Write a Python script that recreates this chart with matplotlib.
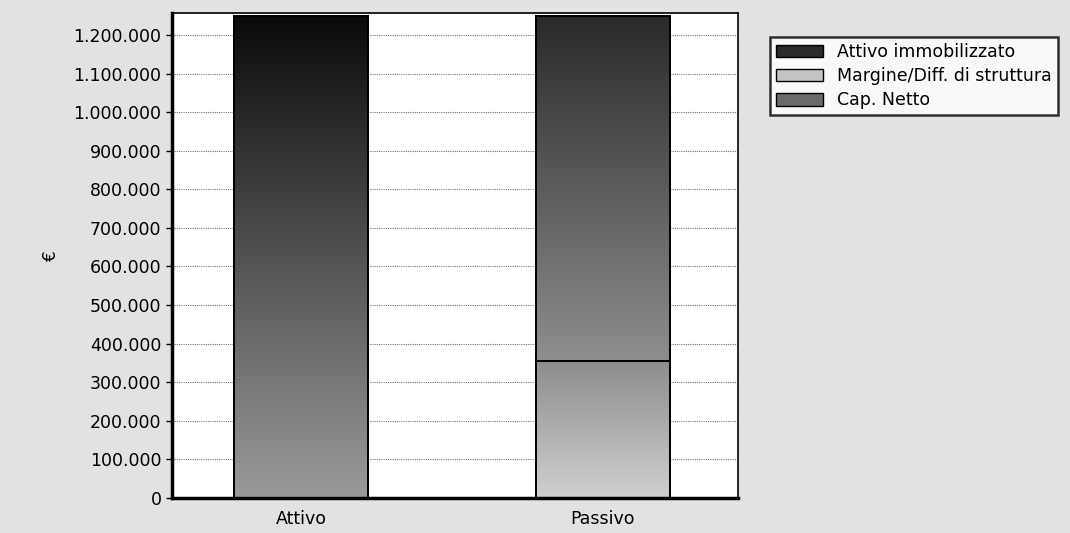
import numpy as np
import matplotlib
matplotlib.use("Agg")
import matplotlib.pyplot as plt
from matplotlib.colors import LinearSegmentedColormap
from matplotlib.patches import Patch

categories = ["Attivo", "Passivo"]
series_names = ["Attivo immobilizzato", "Margine/Diff. di struttura", "Cap. Netto"]
attivo_immobilizzato = [1250000, 0]
margine = [0, 356000]
cap_netto = [0, 894000]
yticks = [0, 100000, 200000, 300000, 400000, 500000, 600000, 700000,
          800000, 900000, 1000000, 1100000, 1200000]
ytick_labels = ["0", "100.000", "200.000", "300.000", "400.000", "500.000",
                "600.000", "700.000", "800.000", "900.000", "1.000.000",
                "1.100.000", "1.200.000"]

plt.rcParams['font.family'] = ['DejaVu Sans']
fig = plt.figure(figsize=(10.70, 5.33), dpi=100, facecolor="#e2e2e2")
ax = fig.add_axes([172/1070, 1-498/533, (738-172)/1070, (498-13)/533])
ax.set_facecolor("white")

x = np.arange(len(categories))
w = 0.445
b1 = ax.bar(x, attivo_immobilizzato, w, color="#3a3a3a", edgecolor="black", lw=1.2, zorder=2)
b2 = ax.bar(x, margine, w, bottom=attivo_immobilizzato, color="#b0b0b0", edgecolor="black", lw=1.2, zorder=2)
bot3 = np.array(attivo_immobilizzato) + np.array(margine)
b3 = ax.bar(x, cap_netto, w, bottom=bot3, color="#6a6a6a", edgecolor="black", lw=1.2, zorder=2)

# gradient fills, clipped to the bar patches
grads = {
    0: ("#9a9a9a", "#0a0a0a"),
    1: ("#d0d0d0", "#8c8c8c"),
    2: ("#8e8e8e", "#2a2a2a"),
}
for si, bars in enumerate([b1, b2, b3]):
    c0, c1 = grads[si]
    cmap = LinearSegmentedColormap.from_list("g%d" % si, [c0, c1])
    for p in bars:
        h = p.get_height()
        if h <= 0:
            continue
        x0, y0 = p.get_x(), p.get_y()
        grad = np.linspace(0, 1, 256).reshape(-1, 1)
        im = ax.imshow(grad, cmap=cmap, origin="lower", aspect="auto",
                       extent=[x0, x0 + p.get_width(), y0, y0 + h], zorder=2.5)
        im.set_clip_path(p)
        ax.bar(p.get_x() + p.get_width()/2, h, p.get_width(), bottom=y0,
               facecolor="none", edgecolor="black", lw=1.4, zorder=3)

ax.set_xlim(-0.43, 1.45)
ax.set_ylim(0, 1257000)
ax.set_yticks(yticks)
ax.set_yticklabels(ytick_labels, fontsize=12.5)
ax.set_xticks(x)
ax.set_xticklabels(categories, fontsize=12.5)
ax.tick_params(axis="y", length=4, width=1)
ax.tick_params(axis="x", length=0, pad=9)
ax.grid(axis="y", color="#777777", lw=0.8, ls=(0, (1, 1)), zorder=1)
ax.set_axisbelow(True)
for s in ["left", "bottom"]:
    ax.spines[s].set_linewidth(2.5)
for s in ["top", "right"]:
    ax.spines[s].set_linewidth(1.2)
ax.set_ylabel("€", fontsize=12, labelpad=10)

handles = [Patch(facecolor="#2a2a2a", edgecolor="black"),
           Patch(facecolor="#c4c4c4", edgecolor="black"),
           Patch(facecolor="#6a6a6a", edgecolor="black")]
leg = fig.legend(handles, series_names, loc="upper left",
                 bbox_to_anchor=(770/1070, 1-37/533), fontsize=12.5,
                 frameon=True, fancybox=False, shadow=False,
                 handlelength=2.7, handleheight=0.75, handletextpad=0.8,
                 borderpad=0.35, labelspacing=0.35, borderaxespad=0)
leg.get_frame().set_edgecolor("black")
leg.get_frame().set_linewidth(1.8)
leg.get_frame().set_facecolor("white")

fig.savefig("out.png", dpi=100, facecolor=fig.get_facecolor())
